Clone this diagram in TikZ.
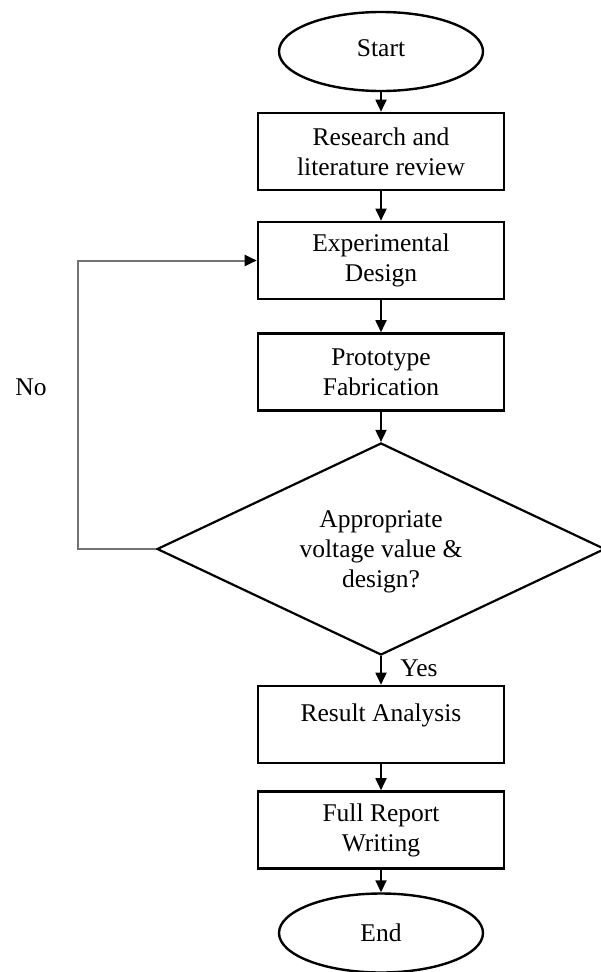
\documentclass[tikz,border=0pt]{standalone}
\usepackage{fontspec}
\setmainfont{Liberation Serif}
\usetikzlibrary{shapes.geometric,arrows.meta}
\begin{document}
\begin{tikzpicture}[x=1pt,y=-1pt,
  font=\fontsize{25.5}{30}\selectfont,
  stepbox/.style={draw=black, line width=2.6pt, minimum width=246pt, minimum height=77pt, inner sep=0pt, align=center},
  term/.style={draw=black, line width=2.4pt, ellipse, minimum width=204pt, minimum height=79pt, inner sep=0pt},
  decision/.style={draw=black, line width=2.2pt, diamond, minimum width=448pt, minimum height=212pt, inner sep=0pt},
  flow/.style={line width=1.8pt, -{Triangle[length=12pt,width=11pt]}},
  loopline/.style={draw=black!55, line width=2pt, -{Triangle[length=12pt,width=11pt,color=black]}}
]
\useasboundingbox (0,0) rectangle (600,972);
\node[term] (start) at (381,51.5) {};
\node at (381,48) {Start};
\node[stepbox] (b1) at (381,151.5) {Research and\\literature review};
\node[stepbox] (b2) at (381,260.5) {Experimental\\Design};
\node[stepbox] (b3) at (381,372) {Prototype\\Fabrication};
\node[decision] (dec) at (381,549) {};
\node[align=center] (dtext) at (381,552) {Appropriate\\voltage value \&\\design?};
\node[stepbox] (b4) at (381,724.5) {};
\node (b4text) at (381,715) {Result Analysis};
\node[stepbox] (b5) at (381,830) {Full Report\\Writing};
\node[term] (end) at (381,933) {End};
\node (no) at (31,387) {No};
\node (yes) at (419,668) {Yes};
\coordinate (lc) at (78,549);
\draw[flow] (start) -- (b1);
\draw[flow] (b1) -- (b2);
\draw[flow] (b2) -- (b3);
\draw[flow] (b3) -- (dec.north);
\draw[flow] (dec.south) -- (b4);
\draw[flow] (b4) -- (b5);
\draw[flow] (b5) -- (end);
\draw[loopline] (dec.west) -- (lc) |- (b2.west);
\end{tikzpicture}
\end{document}
